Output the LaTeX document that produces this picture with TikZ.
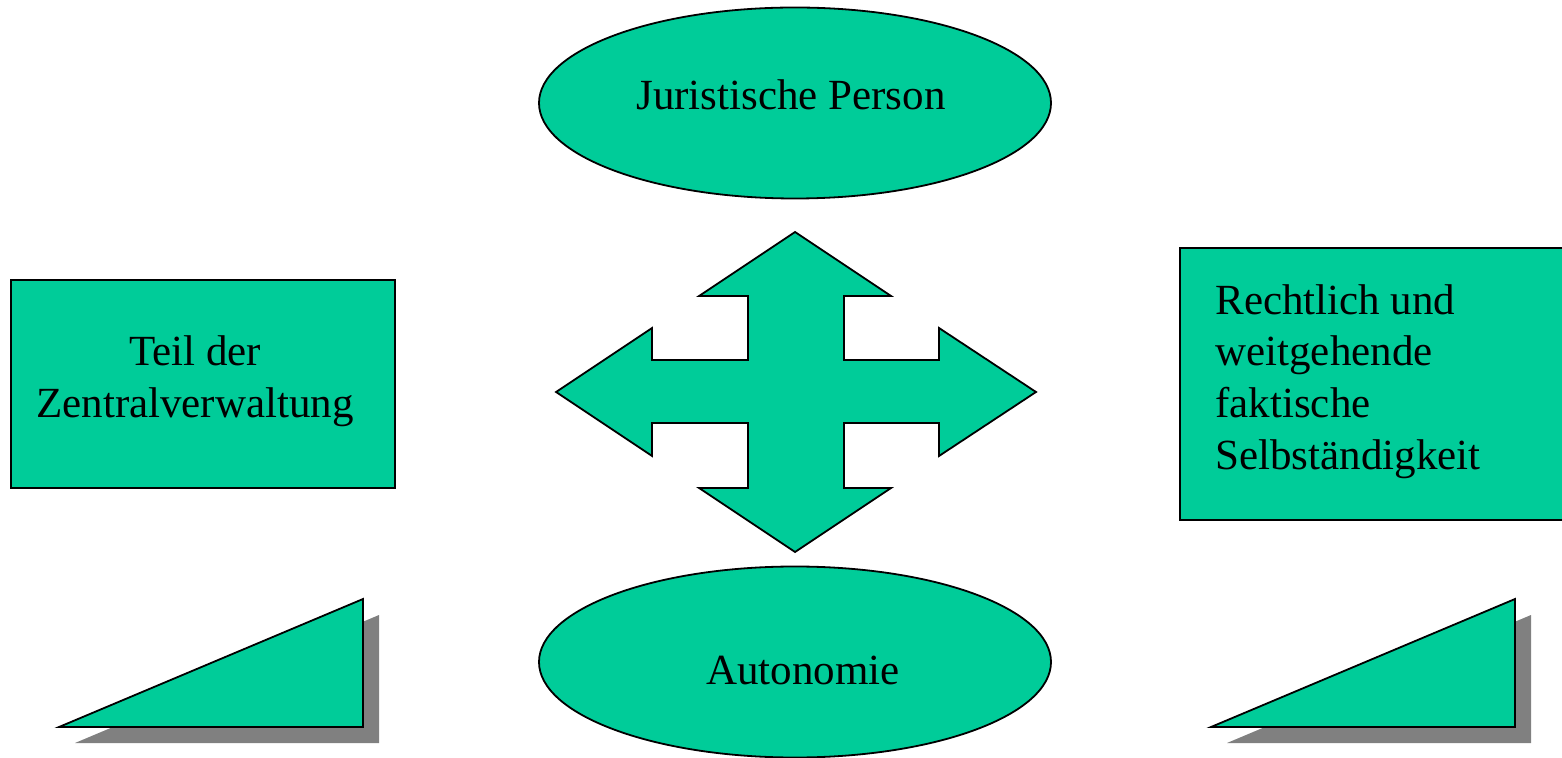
\documentclass[tikz,border=0pt]{standalone}
\usepackage{fontspec}
\setmainfont{Liberation Serif}
\usetikzlibrary{shapes.geometric}
\definecolor{boxgreen}{RGB}{0,204,153}
\definecolor{shadowgray}{RGB}{128,128,128}
\begin{document}
\begin{tikzpicture}[x=0.5pt,y=-0.5pt,
  shapefill/.style={fill=boxgreen,draw=black,line width=0.9pt,line join=miter},
  txt/.style={font=\fontsize{21.5}{25.8}\selectfont,text=black,inner sep=0pt},
  oval/.style={shapefill,ellipse,minimum width=256pt,minimum height=95.5pt,inner sep=0pt}]
\useasboundingbox (0,0) rectangle (1562,758);

% ellipses
\node[oval] (jp) at (795,103) {};
\node[txt] (jpt) at (791,95) {Juristische Person};
\node[oval] (au) at (795,662) {};
\node[txt] (aut) at (803,670) {Autonomie};

% side boxes
\draw[shapefill] (11,280) rectangle (395,488);
\node[txt,align=center] (teil) at (195,381) {Teil der\\Zentralverwaltung};
\draw[shapefill] (1180,248) rectangle (1575,520);
\node[txt,align=left,anchor=north west] (recht) at (1215,284)
  {Rechtlich und\\weitgehende\\faktische\\Selbständigkeit};

% four-way arrow
\draw[shapefill] (795,232) -- (891,296) -- (844,296) -- (844,360) -- (939,360)
  -- (939,328) -- (1036,392) -- (939,456) -- (939,423) -- (844,423) -- (844,488)
  -- (891,488) -- (795,552) -- (699,488) -- (748,488) -- (748,423) -- (652,423)
  -- (652,456) -- (556,392) -- (652,328) -- (652,360) -- (748,360) -- (748,296)
  -- (699,296) -- cycle;

% wedges with drop shadows
\foreach \dx in {0,1152}{
  \fill[shadowgray] (59+16+\dx,727+16) -- (363+16+\dx,599+16) -- (363+16+\dx,727+16) -- cycle;
  \draw[shapefill] (59+\dx,727) -- (363+\dx,599) -- (363+\dx,727) -- cycle;
}
\end{tikzpicture}
\end{document}
